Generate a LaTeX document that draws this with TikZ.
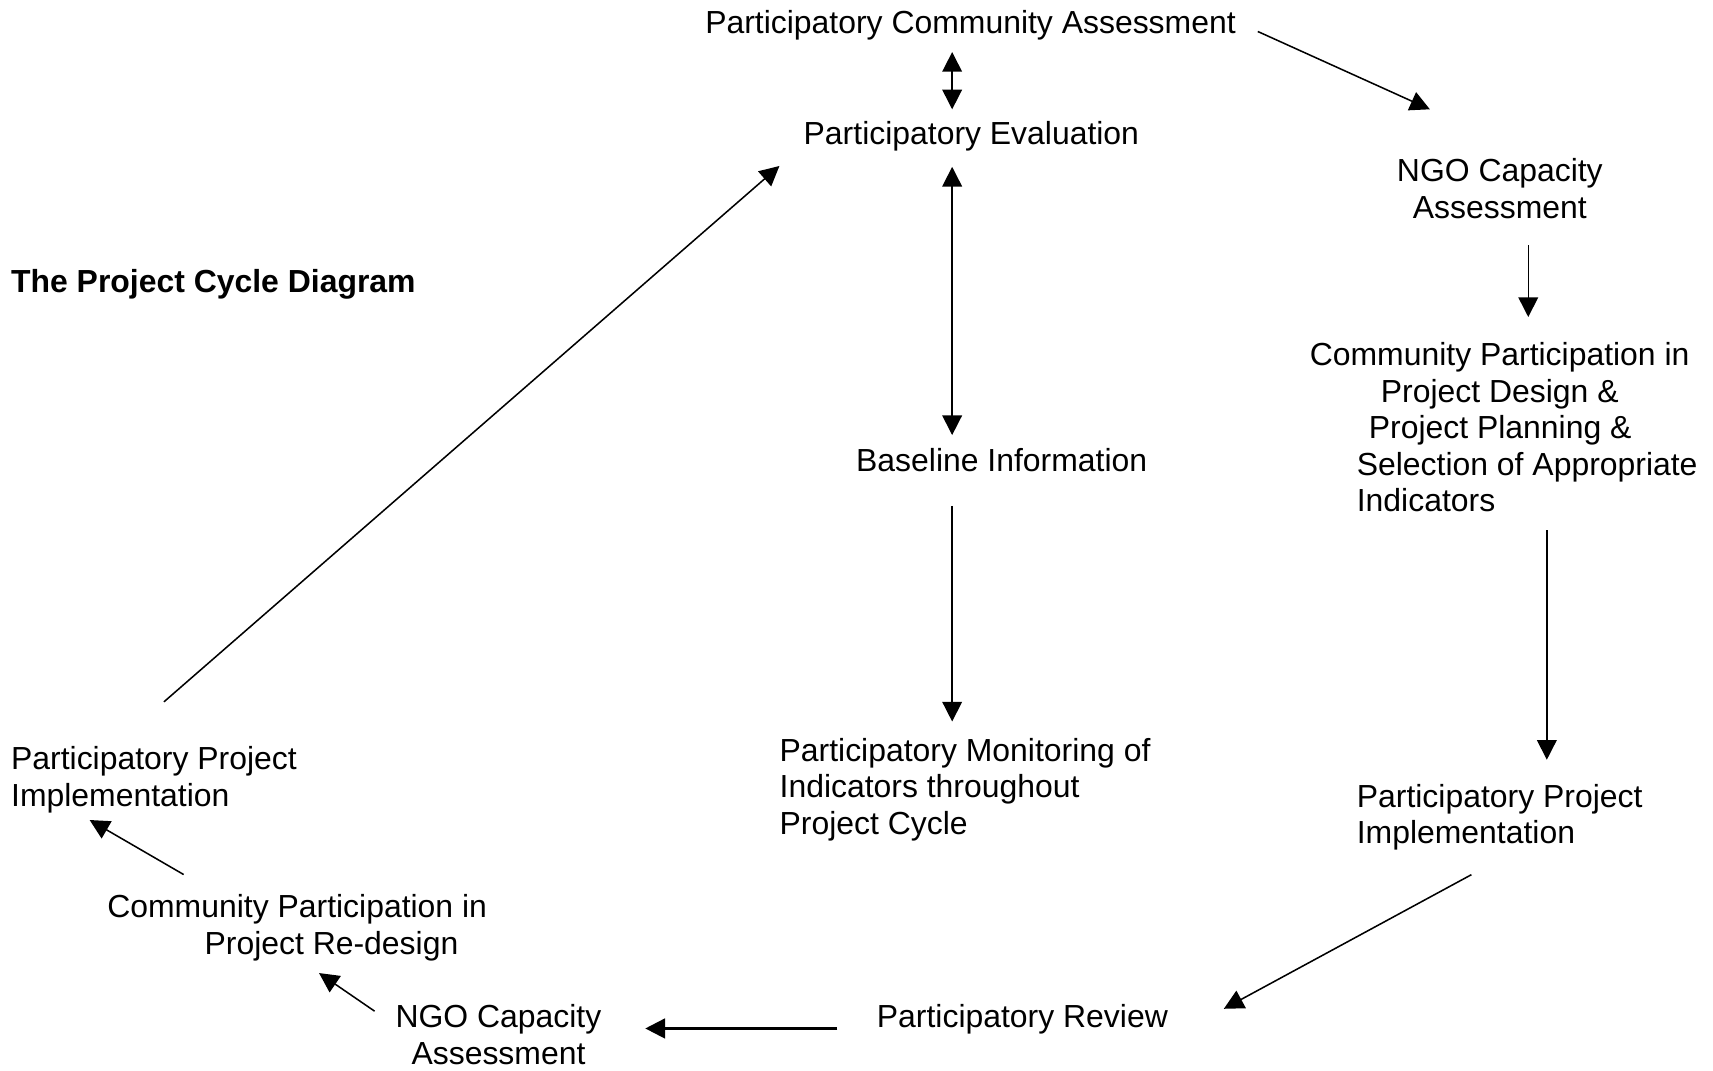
\documentclass[tikz,border=0pt]{standalone}
\usepackage{fontspec}
\setmainfont{Liberation Sans}
\usetikzlibrary{arrows.meta,calc,positioning}
\tikzset{step box/.style={
        inner sep=0pt,
        font=\fontsize{29.2}{33.5}\selectfont } }
\tikzset{link/.style={
        line width=1.4pt,
        -{Triangle[length=18pt,width=18pt]} } }
\tikzset{both link/.style={
        line width=1.4pt,
        {Triangle[length=18pt,width=18pt]}-{Triangle[length=18pt,width=18pt]} } }

\begin{document}
\begin{tikzpicture}[x=1pt,y=-1pt]
\useasboundingbox (0,0) rectangle (1567,979);
\coordinate (spine) at (871,0);

\node[step box, anchor=north west] (title) at (10,246) {\bfseries The Project Cycle Diagram};

\node[step box, anchor=north west] (comass) at (645,9) {Participatory Community Assessment};
\node[step box, anchor=north west] (eval) at (735,111) {Participatory Evaluation};
\node[step box, anchor=north west] (base) at (783,410) {Baseline Information};
\node[step box, anchor=north west, align=left] (monit) at (713,675)
{Participatory Monitoring of\\Indicators throughout\\Project Cycle};

\node[step box, anchor=north, align=center] (ngoA) at (1372,145) {NGO Capacity\\Assessment};
\node[step box, anchor=north west, align=left] (design) at (1198,313)
{Community Participation in\\\hspace*{65pt}Project Design \&\\\hspace*{54pt}Project Planning \&\\
\hspace*{43pt}Selection of Appropriate\\\hspace*{43pt}Indicators};
\node[step box, anchor=north west, align=left] (implA) at (1241,717) {Participatory Project\\Implementation};

\node[step box, anchor=north west] (review) at (802,919) {Participatory Review};
\node[step box, anchor=north, align=center] (ngoB) at (456,919) {NGO Capacity\\Assessment};
\node[step box, anchor=north west, align=left] (redesign) at (98,818)
{Community Participation in\\\hspace*{89pt}Project Re-design};
\node[step box, anchor=north west, align=left] (implB) at (10,683) {Participatory Project\\Implementation};

% centre column
\draw[both link] ($(comass.south -| spine)+(0,11)$) -- ($(eval.north -| spine)+(0,-11)$);
\draw[both link] ($(eval.south -| spine)+(0,14)$) -- ($(base.north -| spine)+(0,-12)$);
\draw[link] ($(base.south -| spine)+(0,31)$) -- ($(monit.north -| spine)+(0,-15)$);

% right side
\draw[link] ($(comass.east)+(20,6)$) -- ($(ngoA.north)+(-64,-45)$);
\draw[link] ($(ngoA.south)+(26,24)$) -- ($(design.north -| ngoA.south)+(26,-23)$);
\draw[link] ($(design.south -| implA.west)+(174,16)$) -- ($(implA.north west)+(174,-22)$);
\draw[link] ($(implA.south west)+(105,22)$) -- ($(review.east)+(51,-10)$);

% bottom and left side
\draw[link, line width=2.2pt] ($(review.west)+(-36,8)$) -- ($(ngoB.east |- review.west)+(40,8)$);
\draw[link] ($(ngoB.north west)+(-19,6)$) -- ($(redesign.south)+(20,11)$);
\draw[link] ($(redesign.north west)+(70,-18)$) -- ($(implB.south west)+(72,6)$);
\draw[link] ($(implB.north west)+(140,-41)$) -- ($(eval.west)+(-22,27)$);

\end{tikzpicture}
\end{document}
